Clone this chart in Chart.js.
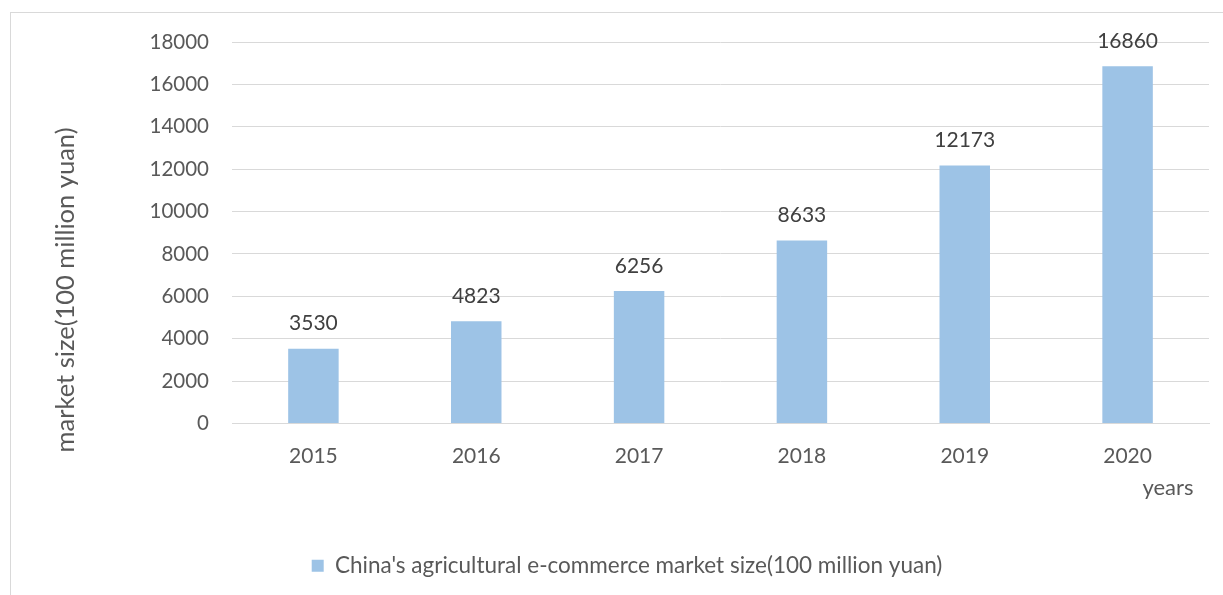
<!DOCTYPE html>
<html>
<head>
<meta charset="utf-8">
<script src="https://cdn.jsdelivr.net/npm/chart.js@4"></script>
<style>
html,body{margin:0;padding:0;background:#fff;}
#wrap{width:1223px;height:595px;}
</style>
</head>
<body>
<div id="wrap"><canvas id="c" width="1223" height="595"></canvas></div>
<script>
const categories = ['2015','2016','2017','2018','2019','2020'];
const marketSize = [3530, 4823, 6256, 8633, 12173, 16860];
const seriesName = "China's agricultural e-commerce market size(100 million yuan)";
const yTitle = 'market size(100 million yuan)';
const xTitle = 'years';
const FONT = 'Lato, "Noto Sans", sans-serif';

const extras = {
  id: 'extras',
  beforeDraw(chart) {
    const ctx = chart.ctx;
    ctx.save();
    ctx.strokeStyle = '#D9D9D9';
    ctx.lineWidth = 1;
    ctx.strokeRect(10.5, 12.5, 1400, 800);
    ctx.restore();
  },
  afterDatasetsDraw(chart) {
    const ctx = chart.ctx;
    const meta = chart.getDatasetMeta(0);
    ctx.save();
    ctx.fillStyle = '#404040';
    ctx.font = '21px ' + FONT;
    ctx.textAlign = 'center';
    ctx.textBaseline = 'middle';
    meta.data.forEach((bar, i) => {
      ctx.fillText(String(chart.data.datasets[0].data[i]), bar.x, bar.y - 25);
    });
    // y title
    ctx.fillStyle = '#595959';
    ctx.font = '25.5px ' + FONT;
    ctx.translate(66, 290);
    ctx.rotate(-Math.PI / 2);
    ctx.fillText(yTitle, 0, 0);
    ctx.restore();
    ctx.save();
    ctx.fillStyle = '#595959';
    ctx.font = '22px ' + FONT;
    ctx.textAlign = 'center';
    ctx.textBaseline = 'middle';
    ctx.fillText(xTitle, 1168, 488);
    ctx.restore();
  }
};

new Chart(document.getElementById('c'), {
  type: 'bar',
  data: {
    labels: categories,
    datasets: [{
      label: seriesName,
      data: marketSize,
      backgroundColor: '#9DC3E6',
      borderWidth: 0,
      categoryPercentage: 1,
      barPercentage: 0.31
    }]
  },
  options: {
    responsive: false,
    animation: false,
    layout: { padding: { left: 45, right: 14, top: 42, bottom: 8 } },
    plugins: {
      tooltip: { enabled: false },
      legend: {
        position: 'bottom',
        labels: {
          boxWidth: 12, boxHeight: 12, padding: 10,
          color: '#595959',
          font: { family: FONT, size: 22.5 }
        }
      }
    },
    scales: {
      x: {
        grid: { display: false, drawTicks: false },
        border: { display: true, color: '#D9D9D9', width: 1 },
        ticks: { color: '#595959', font: { family: FONT, size: 21 }, padding: 20, maxRotation: 0 },
        afterFit(scale) { scale.height = 121; }
      },
      y: {
        min: 0, max: 18000,
        ticks: {
          stepSize: 2000, color: '#595959', font: { family: FONT, size: 20.5 }, padding: 23,
          callback: (v) => String(v)
        },
        grid: { color: '#D9D9D9', drawTicks: false, lineWidth: 1 },
        border: { display: false },
        afterFit(scale) { scale.width = 187; }
      }
    }
  },
  plugins: [extras]
});
</script>
</body>
</html>
